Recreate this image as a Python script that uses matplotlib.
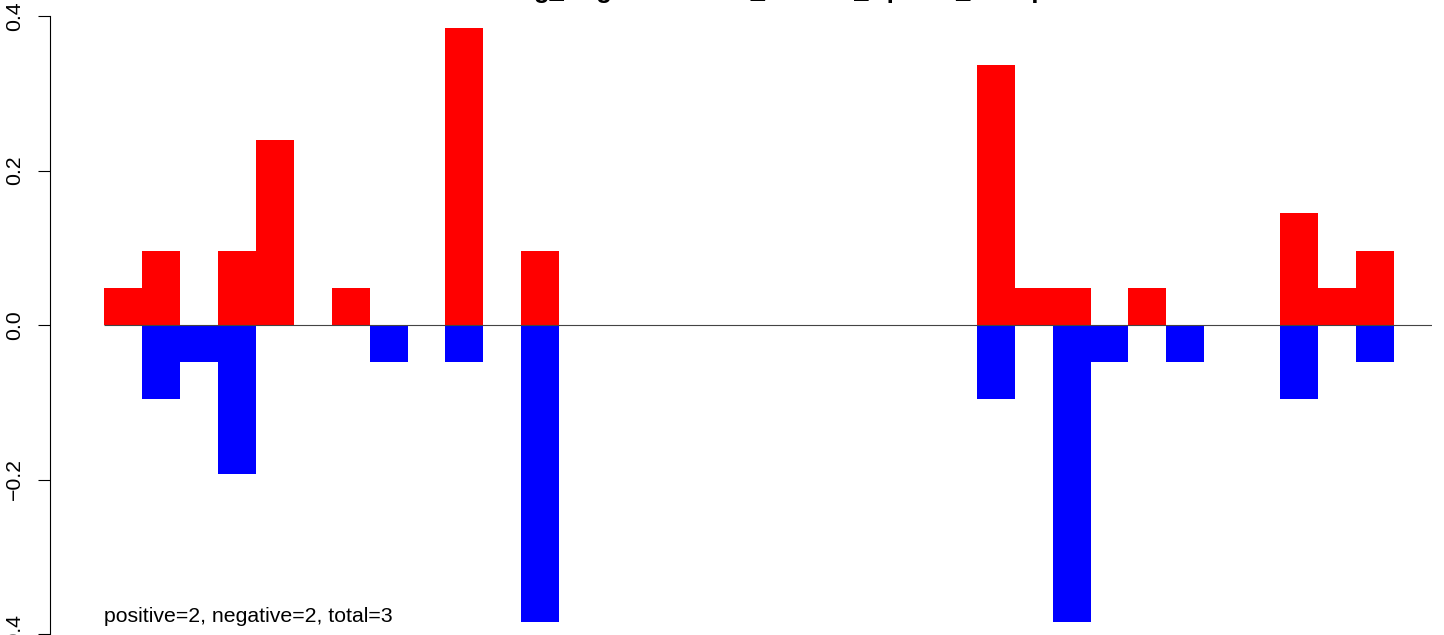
import matplotlib
matplotlib.use("Agg")
import matplotlib.pyplot as plt
import numpy as np

plt.rcParams['font.family'] = ['Liberation Sans', 'DejaVu Sans']

title = "Drug_Regulation.Hits_Module_UpSets_Group"
note = "positive=2, negative=2, total=3"

positive = [0.048, 0.096, 0, 0.096, 0.24, 0, 0.048, 0, 0, 0.385, 0, 0.096,
            0, 0, 0, 0, 0, 0, 0, 0, 0, 0, 0,
            0.337, 0.048, 0.048, 0, 0.048, 0, 0, 0, 0.145, 0.048, 0.096]
negative = [0, -0.096, -0.048, -0.193, 0, 0, 0, -0.048, 0, -0.048, 0, -0.385,
            0, 0, 0, 0, 0, 0, 0, 0, 0, 0, 0,
            -0.096, 0, -0.385, -0.048, 0, -0.048, 0, 0, -0.096, 0, -0.048]
yticks = [-0.4, -0.2, 0.0, 0.2, 0.4]
yticklabels = ["\u22120.4", "\u22120.2", "0.0", "0.2", "0.4"]

W, H = 1444, 635
fig = plt.figure(figsize=(W / 100, H / 100), dpi=100)
ax = fig.add_axes([50 / W, 1 - 634 / H, (1432 - 50) / W, (634 - 16) / H])

x = np.arange(len(positive))
ax.bar(x, negative, width=1, align='edge', color='#0000ff', linewidth=0)
ax.bar(x, positive, width=1, align='edge', color='#ff0000', linewidth=0)
ax.hlines(0, 0, 35, color='#444444', linewidth=0.8)

ax.set_xlim(-54 / 37.94, 35.0)
ax.set_ylim(-0.4, 0.4)
for s in ['top', 'right', 'bottom']:
    ax.spines[s].set_visible(False)
ax.spines['left'].set_linewidth(0.8)
ax.set_xticks([])
ax.set_yticks(yticks)
ax.set_yticklabels(yticklabels, rotation=90, va='center', fontsize=15.3)
ax.tick_params(axis='y', length=8.6, width=0.8, pad=10)

ax.text(0, -0.3845, note, fontsize=15.3, ha='left', va='baseline')

fig.text(490 / W, 1 + 2 / H, title, fontsize=18.4, fontweight='bold',
         ha='left', va='baseline')

fig.savefig("out.png", dpi=100)
